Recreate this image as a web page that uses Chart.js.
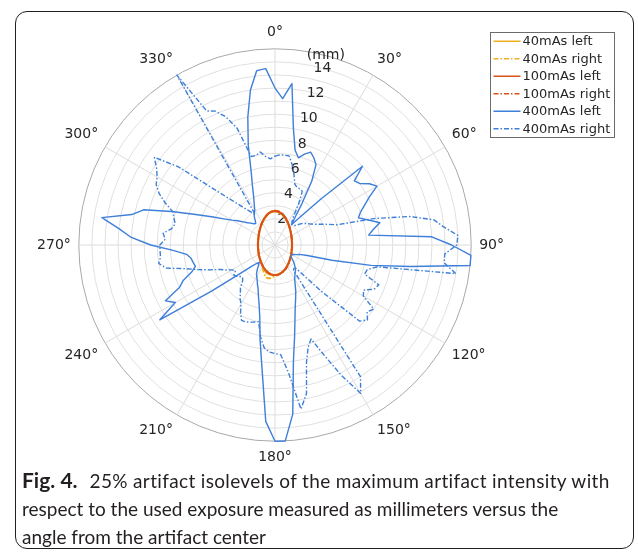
<!DOCTYPE html>
<html>
<head>
<meta charset="utf-8">
<script src="https://cdn.jsdelivr.net/npm/chart.js@4.4.0/dist/chart.umd.min.js"></script>
<style>
  html, body { margin: 0; padding: 0; background: #fff; }
  #page { position: relative; width: 638px; height: 559px; overflow: hidden; }
  #frame {
    position: absolute; left: 15px; top: 11px; width: 619px; height: 538px;
    border: 1.5px solid #231f20; border-radius: 12px; box-sizing: border-box;
  }
  #plot { position: absolute; left: 0; top: 0; }
  #caption {
    position: absolute; left: 22px; top: 466px;
    font-family: Lato, "Open Sans", sans-serif; font-size: 19px; line-height: 28px;
    color: #231f20; white-space: nowrap;
  }
  #caption b { font-weight: 700; font-size: 21px; }
  #caption .l1 { margin-left: 12px; letter-spacing: 0.35px; }
</style>
</head>
<body>
<div id="page">
  <div id="frame"></div>
  <canvas id="plot" width="638" height="559"></canvas>
  <div id="caption"><b>Fig. 4.</b><span class="l1">25% artifact isolevels of the maximum artifact intensity with</span><br>respect to the used exposure measured as millimeters versus the<br>angle from the artifact center</div>
</div>
<script>
// ===========================
// Data (angle in degrees, clockwise from top; radius in mm)
// ===========================
const ANGLES = [
  0, 3, 6, 9, 12, 15, 18, 21, 24, 27, 30, 33, 36, 39, 42, 45, 48, 51, 54, 57,
  60, 63, 66, 69, 72, 75, 78, 81, 84, 87, 90, 93, 96, 99, 102, 105, 108, 111, 114, 117,
  120, 123, 126, 129, 132, 135, 138, 141, 144, 147, 150, 153, 156, 159, 162, 165, 168, 171, 174, 177,
  180, 183, 186, 189, 192, 195, 198, 201, 204, 207, 210, 213, 216, 219, 222, 225, 228, 231, 234, 237,
  240, 243, 246, 249, 252, 255, 258, 261, 264, 267, 270, 273, 276, 279, 282, 285, 288, 291, 294, 297,
  300, 303, 306, 309, 312, 315, 318, 321, 324, 327, 330, 333, 336, 339, 342, 345, 348, 351, 354, 357
];

const MAS40_LEFT = [
  2.57, 2.56, 2.53, 2.48, 2.42, 2.35, 2.27, 2.19, 2.11, 2.03, 1.95, 1.88, 1.81, 1.75, 1.69, 1.63, 1.58, 1.54, 1.50, 1.46,
  1.43, 1.40, 1.38, 1.36, 1.34, 1.32, 1.31, 1.30, 1.30, 1.29, 1.29, 1.29, 1.30, 1.30, 1.31, 1.32, 1.33, 1.35, 1.37, 1.39,
  1.42, 1.45, 1.48, 1.51, 1.55, 1.59, 1.64, 1.68, 1.74, 1.79, 1.85, 1.91, 1.97, 2.03, 2.09, 2.14, 2.19, 2.23, 2.26, 2.28,
  2.29, 2.30, 2.30, 2.30, 2.28, 2.25, 2.20, 2.13, 2.05, 1.96, 1.87, 1.80, 1.74, 1.68, 1.64, 1.59, 1.55, 1.51, 1.48, 1.45,
  1.42, 1.39, 1.37, 1.35, 1.33, 1.32, 1.31, 1.30, 1.30, 1.29, 1.29, 1.29, 1.30, 1.30, 1.31, 1.32, 1.34, 1.36, 1.38, 1.40,
  1.43, 1.46, 1.50, 1.54, 1.59, 1.63, 1.69, 1.75, 1.81, 1.88, 1.96, 2.03, 2.12, 2.20, 2.28, 2.36, 2.44, 2.50, 2.54, 2.56
];
const MAS40_RIGHT = [
  2.60, 2.59, 2.57, 2.52, 2.46, 2.38, 2.30, 2.22, 2.14, 2.05, 1.97, 1.90, 1.83, 1.77, 1.71, 1.65, 1.60, 1.56, 1.52, 1.48,
  1.45, 1.42, 1.40, 1.38, 1.36, 1.34, 1.33, 1.32, 1.32, 1.31, 1.31, 1.31, 1.32, 1.32, 1.33, 1.34, 1.35, 1.37, 1.39, 1.41,
  1.44, 1.47, 1.50, 1.53, 1.57, 1.61, 1.66, 1.70, 1.76, 1.81, 1.87, 1.93, 1.99, 2.05, 2.11, 2.16, 2.21, 2.26, 2.30, 2.34,
  2.38, 2.44, 2.52, 2.58, 2.60, 2.56, 2.46, 2.32, 2.18, 2.04, 1.92, 1.83, 1.76, 1.70, 1.66, 1.61, 1.57, 1.53, 1.50, 1.47,
  1.44, 1.41, 1.39, 1.37, 1.35, 1.34, 1.33, 1.32, 1.32, 1.31, 1.31, 1.31, 1.32, 1.32, 1.33, 1.34, 1.36, 1.38, 1.40, 1.42,
  1.45, 1.48, 1.52, 1.56, 1.61, 1.65, 1.71, 1.77, 1.83, 1.90, 1.98, 2.05, 2.14, 2.22, 2.30, 2.38, 2.46, 2.52, 2.57, 2.59
];
const MAS100_LEFT = [
  2.60, 2.59, 2.56, 2.51, 2.45, 2.37, 2.29, 2.21, 2.13, 2.04, 1.97, 1.89, 1.82, 1.76, 1.70, 1.64, 1.60, 1.55, 1.51, 1.47,
  1.44, 1.41, 1.39, 1.37, 1.35, 1.33, 1.32, 1.31, 1.31, 1.30, 1.30, 1.30, 1.31, 1.31, 1.32, 1.33, 1.34, 1.36, 1.38, 1.40,
  1.43, 1.46, 1.49, 1.52, 1.56, 1.60, 1.65, 1.69, 1.75, 1.80, 1.86, 1.92, 1.98, 2.04, 2.10, 2.15, 2.20, 2.24, 2.27, 2.29,
  2.30, 2.29, 2.27, 2.24, 2.20, 2.15, 2.10, 2.04, 1.98, 1.92, 1.86, 1.80, 1.75, 1.69, 1.65, 1.60, 1.56, 1.52, 1.49, 1.46,
  1.43, 1.40, 1.38, 1.36, 1.34, 1.33, 1.32, 1.31, 1.31, 1.30, 1.30, 1.30, 1.31, 1.31, 1.32, 1.33, 1.35, 1.37, 1.39, 1.41,
  1.44, 1.47, 1.51, 1.55, 1.60, 1.64, 1.70, 1.76, 1.82, 1.89, 1.97, 2.04, 2.13, 2.21, 2.29, 2.37, 2.45, 2.51, 2.56, 2.59
];
const MAS100_RIGHT = [
  2.62, 2.61, 2.58, 2.54, 2.47, 2.40, 2.31, 2.23, 2.15, 2.06, 1.98, 1.90, 1.83, 1.77, 1.71, 1.65, 1.61, 1.56, 1.52, 1.48,
  1.45, 1.42, 1.40, 1.38, 1.36, 1.34, 1.33, 1.32, 1.32, 1.31, 1.31, 1.31, 1.32, 1.32, 1.33, 1.34, 1.35, 1.37, 1.39, 1.41,
  1.44, 1.47, 1.50, 1.53, 1.57, 1.61, 1.66, 1.70, 1.76, 1.81, 1.87, 1.93, 1.99, 2.05, 2.11, 2.16, 2.21, 2.25, 2.28, 2.30,
  2.31, 2.30, 2.28, 2.25, 2.21, 2.16, 2.11, 2.05, 1.99, 1.93, 1.87, 1.81, 1.76, 1.70, 1.66, 1.61, 1.57, 1.53, 1.50, 1.47,
  1.44, 1.41, 1.39, 1.37, 1.35, 1.34, 1.33, 1.32, 1.32, 1.31, 1.31, 1.31, 1.32, 1.32, 1.33, 1.34, 1.36, 1.38, 1.40, 1.42,
  1.45, 1.48, 1.52, 1.56, 1.61, 1.65, 1.71, 1.77, 1.83, 1.90, 1.98, 2.05, 2.14, 2.22, 2.30, 2.38, 2.46, 2.52, 2.57, 2.60
];
const MAS400_LEFT = [
  12.0, 11.2, 12.4, 9.0, 7.4, 6.9, 7.3, 7.6, 7.3, 6.9, 5.6, 3.8, 2.6, 2.0, 2.9, 5.0, 9.0, 7.8, 8.0, 8.6,
  9.0, 8.1, 7.5, 7.0, 6.7, 7.4, 8.2, 7.6, 7.2, 12.0, 13.5, 15.0, 15.0, 10.5, 7.5, 4.5, 2.6, 2.0, 1.8, 1.6,
  1.5, 1.5, 1.5, 1.7, 1.9, 2.1, 2.3, 2.5, 2.6, 2.8, 3.0, 3.4, 3.9, 4.4, 5.0, 5.9, 7.2, 9.0, 13.0, 15.0,
  15.0, 13.5, 9.5, 7.3, 5.6, 4.7, 4.1, 3.6, 3.3, 3.0, 2.8, 2.6, 2.3, 2.0, 1.8, 2.0, 2.5, 3.6, 6.0, 10.5,
  8.8, 9.4, 8.0, 7.5, 6.7, 6.3, 6.4, 6.5, 6.8, 7.8, 9.5, 11.0, 12.0, 13.4, 11.2, 10.4, 8.3, 6.5, 5.3, 4.4,
  3.8, 3.4, 3.0, 2.7, 2.5, 2.3, 2.2, 2.4, 2.7, 2.9, 3.1, 3.5, 4.0, 4.8, 5.9, 7.9, 10.0, 12.0, 13.4, 13.5
];
const MAS400_RIGHT = [
  6.8, 6.9, 6.9, 6.9, 6.3, 5.6, 4.9, 4.7, 4.7, 4.6, 3.6, 2.6, 2.2, 2.1, 2.1, 2.1, 2.3, 2.6, 2.8, 3.0,
  3.2, 3.5, 3.9, 4.4, 5.0, 7.8, 10.5, 12.3, 13.0, 14.0, 13.9, 13.0, 13.0, 14.0, 8.0, 7.3, 7.2, 8.5, 8.3, 7.6,
  7.8, 9.0, 8.7, 9.1, 8.7, 5.0, 2.4, 2.3, 2.4, 12.0, 13.1, 11.2, 9.2, 7.7, 8.2, 9.3, 11.6, 12.7, 9.8, 8.4,
  8.3, 8.2, 7.9, 7.1, 6.0, 6.1, 6.2, 6.3, 6.3, 5.8, 5.2, 4.9, 4.5, 4.2, 3.7, 3.5, 3.6, 3.8, 3.9, 3.6,
  3.8, 4.2, 4.6, 5.3, 6.1, 7.0, 8.5, 9.0, 8.8, 8.8, 8.8, 8.4, 8.6, 8.0, 7.8, 8.0, 8.2, 9.0, 9.7, 10.2,
  10.4, 10.8, 11.4, 9.5, 6.6, 5.1, 4.2, 3.55, 3.1, 2.75, 15.0, 11.5, 11.2, 10.5, 9.4, 7.0, 7.0, 7.2, 6.8, 6.6
];

const SERIES_LABELS = ['40mAs left', '40mAs right', '100mAs left', '100mAs right', '400mAs left', '400mAs right'];
const R_TICKS = [2, 4, 6, 8, 10, 12, 14, 15];
const R_TICK_LABELS = ['2', '4', '6', '8', '10', '12', '14', '(mm)'];
const R_LABEL_ANGLE = 15;
const R_MAX = 15;

// ===========================
// Styles
// ===========================
const YELLOW = '#EDB120';
const RED = '#D95319';
const BLUE = '#3d7fd9';
const TEXT = '#262626';
const DASH = [5, 2, 1.5, 2];

// ===========================
// Plugins: radial tick labels along 15°, boxed legend
// ===========================
const rTickLabels = {
  id: 'rTickLabels',
  beforeDatasetsDraw(chart) {
    const r = chart.scales.r;
    const idx = ANGLES.indexOf(R_LABEL_ANGLE);
    const ctx = chart.ctx;
    ctx.save();
    ctx.font = '14px "DejaVu Sans"';
    ctx.fillStyle = TEXT;
    ctx.textAlign = 'center';
    ctx.textBaseline = 'middle';
    R_TICKS.forEach((v, i) => {
      const p = r.getPointPositionForValue(idx, v);
      ctx.fillText(R_TICK_LABELS[i], p.x, p.y);
    });
    ctx.restore();
  }
};

const boxLegend = {
  id: 'boxLegend',
  afterDraw(chart) {
    const ctx = chart.ctx;
    const sets = chart.data.datasets;
    const x0 = 490.5, y0 = 32.5, w = 124, rowH = 17.5;
    ctx.save();
    ctx.fillStyle = '#fff';
    ctx.fillRect(x0, y0, w, rowH * sets.length);
    ctx.strokeStyle = '#6b6b6b';
    ctx.lineWidth = 1;
    ctx.strokeRect(x0, y0, w, rowH * sets.length);
    ctx.font = '13px "DejaVu Sans"';
    ctx.textBaseline = 'middle';
    ctx.textAlign = 'left';
    sets.forEach((ds, i) => {
      const y = y0 + rowH * (i + 0.5);
      ctx.strokeStyle = ds.borderColor;
      ctx.lineWidth = 1.5;
      ctx.setLineDash(ds.borderDash || []);
      ctx.beginPath();
      ctx.moveTo(x0 + 3, y);
      ctx.lineTo(x0 + 30, y);
      ctx.stroke();
      ctx.setLineDash([]);
      ctx.fillStyle = TEXT;
      ctx.fillText(ds.label, x0 + 32, y + 0.5);
    });
    ctx.restore();
  }
};

// ===========================
// Chart
// ===========================
function series(label, data, color, dashed, width, order) {
  return {
    label, data,
    borderColor: color,
    backgroundColor: color,
    borderWidth: width,
    borderDash: dashed ? DASH : [],
    borderJoinStyle: 'round',
    fill: false,
    tension: 0,
    pointRadius: 0,
    pointHoverRadius: 0,
    order
  };
}

new Chart(document.getElementById('plot'), {
  type: 'radar',
  data: {
    labels: ANGLES.map(a => a + '°'),
    datasets: [
      series(SERIES_LABELS[0], MAS40_LEFT, YELLOW, false, 2, 6),
      series(SERIES_LABELS[1], MAS40_RIGHT, YELLOW, true, 2, 5),
      series(SERIES_LABELS[2], MAS100_LEFT, RED, false, 2, 4),
      series(SERIES_LABELS[3], MAS100_RIGHT, RED, true, 2, 3),
      series(SERIES_LABELS[4], MAS400_LEFT, BLUE, false, 1.4, 2),
      series(SERIES_LABELS[5], MAS400_RIGHT, BLUE, true, 1.4, 1)
    ]
  },
  options: {
    responsive: false,
    animation: false,
    devicePixelRatio: 1,
    layout: { padding: { left: 11, right: 99, top: 25, bottom: 92 } },
    plugins: { legend: { display: false }, tooltip: { enabled: false } },
    scales: {
      r: {
        min: 0,
        max: R_MAX,
        ticks: { display: false, stepSize: 1 },
        grid: {
          circular: true,
          color: ctx => ctx.tick && ctx.tick.value === R_MAX ? '#a8a8a8' : '#e0e0e0',
          lineWidth: 1
        },
        angleLines: {
          color: '#dcdcdc',
          lineWidth: ctx => (ctx.index % 10 === 0 ? 1 : 0)
        },
        pointLabels: {
          padding: 8,
          color: TEXT,
          font: { family: 'DejaVu Sans', size: 14 },
          callback: (label, index) => (index % 10 === 0 ? label : '')
        }
      }
    }
  },
  plugins: [rTickLabels, boxLegend]
});
</script>
</body>
</html>
